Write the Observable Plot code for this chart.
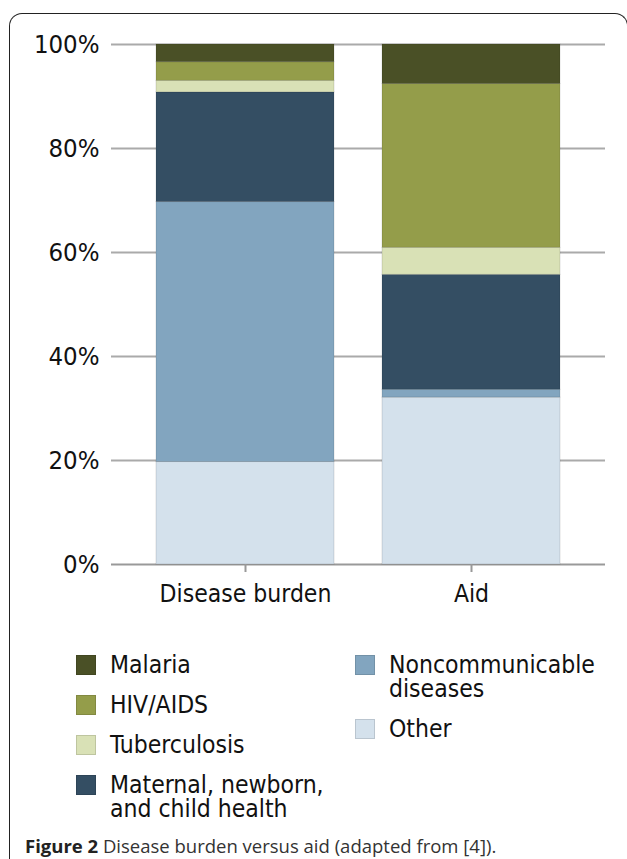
<!DOCTYPE html>
<html>
<head>
<meta charset="utf-8">
<script src="https://cdn.jsdelivr.net/npm/d3@7"></script>
<script src="https://cdn.jsdelivr.net/npm/@observablehq/plot@0.6"></script>
<style>
  html, body { margin: 0; padding: 0; background: #fff; }
  body { width: 627px; height: 859px; position: relative; overflow: hidden; font-family: "DejaVu Sans Condensed", "DejaVu Sans", sans-serif; }
  #frame { position: absolute; left: 9px; top: 13px; width: 619px; height: 900px; border: 1.5px solid #222; border-bottom: none; border-radius: 13px 13px 0 0; box-sizing: border-box; }
  #chart { position: absolute; left: 0; top: 0; }
  #legend { position: absolute; left: 76px; top: 653px; width: 540px; display: flex; }
  .col { display: flex; flex-direction: column; gap: 16px; }
  .item { display: flex; align-items: flex-start; font-size: 24.5px; line-height: 24px; color: #111; }
  .sw { width: 20px; height: 20px; margin-top: 2px; margin-right: 14px; flex: none; box-shadow: inset 0 0 0 1px rgba(0,0,0,0.12); }
  #caption { position: absolute; left: 25px; top: 833px; font-family: "Open Sans", "Noto Sans", sans-serif; font-size: 18.5px; color: #333; white-space: nowrap; }
  #caption b { color: #222; }
</style>
</head>
<body>
<div id="frame"></div>
<div id="chart"></div>
<div id="legend"></div>
<div id="caption"><b>Figure 2</b> Disease burden versus aid (adapted from [4]).</div>
<script>
// Categories on the x axis
const groups = ["Disease burden", "Aid"];
// Causes, top of stack first
const causes = ["Malaria", "HIV/AIDS", "Tuberculosis", "Maternal, newborn, and child health", "Noncommunicable diseases", "Other"];
const causeColors = ["#4a5026", "#949d4a", "#d9e1b6", "#344e63", "#82a5bf", "#d4e1ec"];
// Share (%) per cause, same order as causes
const burdenShare = [3.4, 3.6, 2.2, 21.1, 50.0, 19.7];
const aidShare = [7.6, 31.5, 5.2, 22.1, 1.5, 32.1];
const yTicks = [0, 20, 40, 60, 80, 100];

const shares = {"Disease burden": burdenShare, "Aid": aidShare};
const data = [];
for (const g of groups) {
  for (let i = causes.length - 1; i >= 0; i--) {
    data.push({group: g, cause: causes[i], value: shares[g][i]});
  }
}

const chart = Plot.plot({
  width: 627,
  height: 625,
  marginTop: 44,
  marginBottom: 61,
  marginLeft: 111,
  marginRight: 22,
  style: {fontFamily: '"DejaVu Sans Condensed", "DejaVu Sans", sans-serif', fontSize: "24px", color: "#111", background: "transparent"},
  x: {domain: groups, paddingInner: 0.212, paddingOuter: 0.195, label: null},
  y: {domain: [0, 100], label: null},
  color: {domain: causes, range: causeColors},
  marks: [
    Plot.ruleY(yTicks.filter(d => d > 0), {stroke: "#aaa", strokeWidth: 2}),
    Plot.ruleY([0], {stroke: "#999", strokeWidth: 2}),
    Plot.barY(data, Plot.stackY({x: "group", y: "value", fill: "cause", order: null, stroke: "#000", strokeOpacity: 0.12, strokeWidth: 1, inset: 0})),
    Plot.axisY({ticks: yTicks, tickFormat: d => d + "%", tickSize: 0, tickPadding: 12, fontSize: 25.5}),
    Plot.axisX({tickSize: 8, tickPadding: 12, stroke: "#999", strokeWidth: 2, fontSize: 24.5})
  ]
});
document.getElementById("chart").appendChild(chart);

// Legend in two columns
const legend = document.getElementById("legend");
const colSplit = [[0, 1, 2, 3], [4, 5]];
const colWidths = [279, 260];
const textWidths = [228, 228];
colSplit.forEach((idxs, c) => {
  const col = document.createElement("div");
  col.className = "col";
  col.style.width = colWidths[c] + "px";
  for (const i of idxs) {
    const item = document.createElement("div");
    item.className = "item";
    const sw = document.createElement("span");
    sw.className = "sw";
    sw.style.background = causeColors[i];
    const tx = document.createElement("span");
    tx.textContent = causes[i];
    tx.style.maxWidth = textWidths[c] + "px";
    item.appendChild(sw);
    item.appendChild(tx);
    col.appendChild(item);
  }
  legend.appendChild(col);
});
</script>
</body>
</html>
